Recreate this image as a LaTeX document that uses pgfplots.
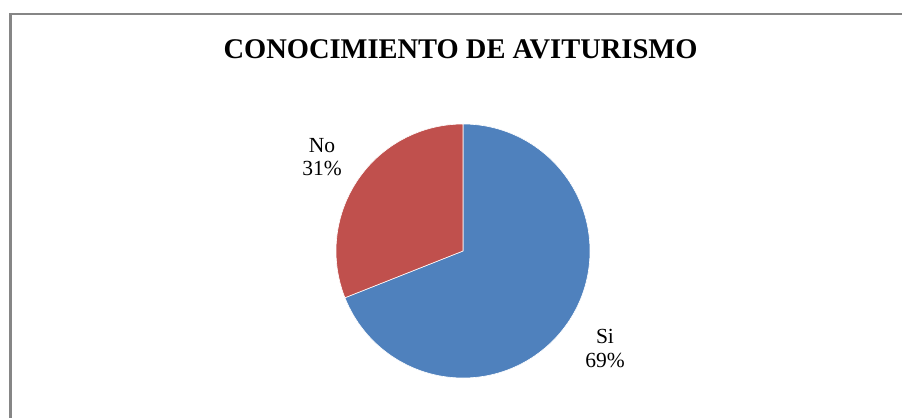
\documentclass[border=0pt]{standalone}
\usepackage{pgfplots}
\usepackage{pgfplotstable}
\pgfplotsset{compat=1.18}
\usepackage{fontspec}
\setmainfont{Liberation Serif}
\definecolor{siblue}{HTML}{4F81BD}
\definecolor{nored}{HTML}{C0504D}
\definecolor{framegray}{HTML}{868686}
\pgfplotstableread{
label value
Si 69
No 31
}\piedata
\begin{document}
\begin{tikzpicture}
\pgfplotstablegetelem{0}{value}\of\piedata \let\vsi\pgfplotsretval
\pgfplotstablegetelem{1}{value}\of\piedata \let\vno\pgfplotsretval
\pgfmathsetmacro{\asi}{\vsi/(\vsi+\vno)*360}
\pgfmathsetmacro{\ano}{\vno/(\vsi+\vno)*360}
\path[use as bounding box] (0,0) rectangle (902bp,418bp);
\begin{axis}[at={(0,0)},anchor=south west,x=1bp,y=1bp,
  xmin=0,xmax=902,ymin=0,ymax=418,hide axis,clip=false]
\fill[siblue,draw=white,line width=0.6bp] (axis cs:463,167) -- ++(90:127bp) arc[start angle=90,delta angle=-\asi,radius=127bp] -- cycle;
\fill[nored,draw=white,line width=0.6bp] (axis cs:463,167) -- ++(90:127bp) arc[start angle=90,delta angle=\ano,radius=127bp] -- cycle;
\draw[framegray,line width=2bp] (axis cs:10.5,0) -- (axis cs:10.5,404) -- (axis cs:902,404);
\node[anchor=base,font=\fontsize{28.6}{32}\selectfont\bfseries,inner sep=0] at (axis cs:460.5,360) {CONOCIMIENTO DE AVITURISMO};
\node[anchor=base,font=\fontsize{21.6}{25}\selectfont,inner sep=0] at (axis cs:322,266) {No};
\node[anchor=base,font=\fontsize{21.6}{25}\selectfont,inner sep=0] at (axis cs:322,243) {31\%};
\node[anchor=base,font=\fontsize{21.6}{25}\selectfont,inner sep=0] at (axis cs:605,75) {Si};
\node[anchor=base,font=\fontsize{21.6}{25}\selectfont,inner sep=0] at (axis cs:605,51) {69\%};
\end{axis}
\end{tikzpicture}
\end{document}
